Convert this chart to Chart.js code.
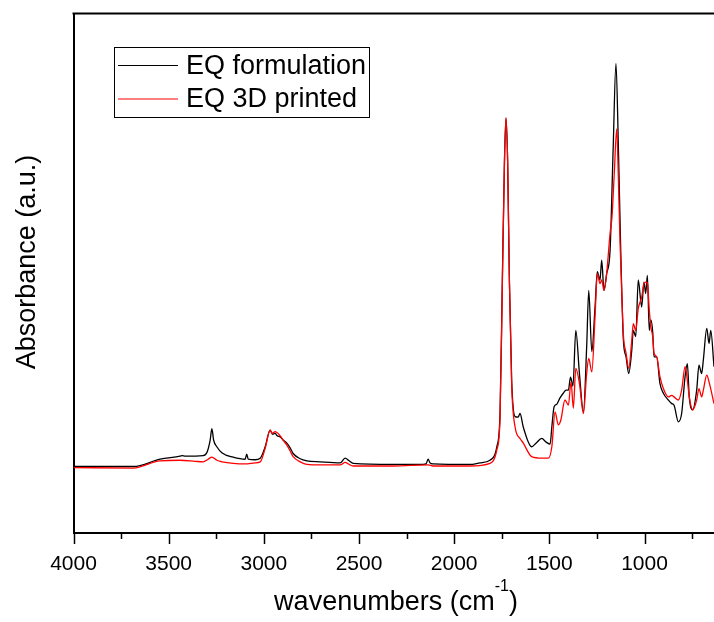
<!DOCTYPE html>
<html>
<head>
<meta charset="utf-8">
<script src="https://cdn.jsdelivr.net/npm/chart.js@4.4.1/dist/chart.umd.min.js"></script>
<style>
  html, body { margin: 0; padding: 0; background: #fff; }
</style>
</head>
<body>
<canvas id="ftir" width="714" height="622"></canvas>
<script>
// FTIR spectra, wavenumber (cm-1) vs absorbance (a.u.)
const wnFormulation = [4000, 3686, 3545, 3440, 3429, 3413, 3319, 3298, 3282, 3273, 3264, 3247, 3219, 3161, 3098, 3090, 3082, 3046, 3019, 2993,
  2967, 2954, 2941, 2930, 2914, 2899, 2879, 2862, 2846, 2809, 2774, 2704, 2599, 2573, 2552, 2531, 2321, 2163, 2148, 2137,
  2127, 2111, 1917, 1864, 1812, 1776, 1759, 1747, 1736, 1728, 1719, 1710, 1698, 1680, 1664, 1654, 1637, 1593, 1570, 1540,
  1517, 1496, 1487, 1475, 1461, 1444, 1427, 1412, 1400, 1389, 1376, 1361, 1342, 1321, 1304, 1293, 1277, 1260, 1248, 1234,
  1225, 1213, 1199, 1181, 1165, 1150, 1137, 1125, 1111, 1097, 1083, 1067, 1059, 1046, 1033, 1015, 1003, 994, 985, 975,
  967, 957, 950, 936, 919, 901, 875, 857, 845, 822, 805, 787, 775, 765, 747, 726, 714, 700, 691, 673, 661, 652, 635];
const absFormulation = [0.128, 0.128, 0.142, 0.148, 0.149, 0.148, 0.149, 0.156, 0.179, 0.201, 0.179, 0.166, 0.154, 0.146, 0.142, 0.152, 0.142, 0.141, 0.144, 0.166,
  0.198, 0.190, 0.192, 0.187, 0.185, 0.179, 0.173, 0.164, 0.153, 0.143, 0.139, 0.137, 0.135, 0.144, 0.139, 0.134, 0.132, 0.132, 0.133, 0.142,
  0.135, 0.133, 0.132, 0.135, 0.140, 0.166, 0.231, 0.487, 0.712, 0.798, 0.712, 0.487, 0.294, 0.224, 0.223, 0.230, 0.204, 0.166, 0.173, 0.182,
  0.175, 0.171, 0.204, 0.243, 0.248, 0.260, 0.269, 0.275, 0.275, 0.300, 0.283, 0.390, 0.307, 0.233, 0.358, 0.467, 0.349, 0.435, 0.503, 0.487,
  0.525, 0.467, 0.499, 0.544, 0.737, 0.904, 0.737, 0.544, 0.371, 0.339, 0.307, 0.352, 0.390, 0.378, 0.487, 0.435, 0.483, 0.461, 0.496, 0.390,
  0.410, 0.387, 0.339, 0.339, 0.288, 0.269, 0.256, 0.249, 0.246, 0.214, 0.230, 0.301, 0.326, 0.262, 0.237, 0.275, 0.323, 0.307, 0.333, 0.394, 0.365, 0.390, 0.320];

const wnPrinted = [4000, 3686, 3545, 3440, 3361, 3319, 3293, 3273, 3247, 3219, 3161, 3098, 3046, 3019, 2993, 2967, 2956, 2941, 2914, 2899,
  2879, 2862, 2846, 2809, 2774, 2704, 2599, 2573, 2552, 2531, 2321, 2137, 2111, 1917, 1812, 1776, 1759, 1747, 1736, 1728,
  1719, 1710, 1698, 1680, 1654, 1637, 1593, 1540, 1505, 1487, 1470, 1453, 1440, 1418, 1400, 1386, 1374, 1361, 1342, 1321,
  1304, 1293, 1277, 1260, 1248, 1234, 1225, 1213, 1199, 1181, 1171, 1159, 1146, 1138, 1129, 1120, 1111, 1097, 1083, 1067,
  1059, 1046, 1033, 1015, 1003, 994, 985, 975, 967, 957, 950, 936, 919, 901, 875, 857, 845, 822, 805, 787,
  775, 765, 747, 726, 714, 700, 691, 673, 661, 635];
const absPrinted = [0.126, 0.125, 0.139, 0.140, 0.138, 0.137, 0.142, 0.146, 0.140, 0.137, 0.134, 0.133, 0.135, 0.137, 0.163, 0.198, 0.192, 0.195, 0.187, 0.179,
  0.169, 0.158, 0.147, 0.137, 0.132, 0.131, 0.131, 0.136, 0.132, 0.129, 0.129, 0.131, 0.129, 0.129, 0.134, 0.160, 0.221, 0.477, 0.712, 0.800,
  0.712, 0.487, 0.285, 0.204, 0.182, 0.173, 0.147, 0.144, 0.144, 0.166, 0.233, 0.208, 0.217, 0.256, 0.246, 0.291, 0.240, 0.317, 0.288, 0.230,
  0.307, 0.336, 0.310, 0.416, 0.499, 0.480, 0.487, 0.467, 0.499, 0.577, 0.608, 0.692, 0.778, 0.692, 0.563, 0.467, 0.381, 0.346, 0.317, 0.371,
  0.403, 0.390, 0.432, 0.454, 0.480, 0.483, 0.481, 0.429, 0.397, 0.378, 0.346, 0.339, 0.301, 0.278, 0.262, 0.265, 0.262, 0.256, 0.275, 0.320,
  0.294, 0.262, 0.237, 0.256, 0.278, 0.262, 0.275, 0.304, 0.291, 0.249];

const seriesLabels = ['EQ formulation', 'EQ 3D printed'];
const seriesColors = ['#000000', '#ff0000'];
const wnRange = [635, 4000];
const majorStep = 500;
const minorStep = 250;

const FONT = '"Liberation Sans", Arial, Helvetica, sans-serif';

function toPoints(xs, ys) {
  return xs.map((x, i) => ({ x: x, y: ys[i] }));
}

// frame top edge, tick marks, axis titles and the boxed legend
const decorations = {
  id: 'decorations',
  afterDraw(chart) {
    const ctx = chart.ctx;
    const area = chart.chartArea;
    const xs = chart.scales.x;
    ctx.save();
    ctx.strokeStyle = '#000';

    ctx.lineWidth = 2;
    ctx.beginPath();
    ctx.moveTo(area.left - 1, area.top);
    ctx.lineTo(area.right, area.top);
    ctx.stroke();

    ctx.lineWidth = 1.5;
    xs.ticks.forEach(t => {
      const px = Math.round(xs.getPixelForValue(t.value)) + 0.5;
      const len = t.value % majorStep === 0 ? 11 : 6;
      ctx.beginPath();
      ctx.moveTo(px, area.bottom);
      ctx.lineTo(px, area.bottom + len);
      ctx.stroke();
    });

    // x title with superscript
    ctx.fillStyle = '#000';
    ctx.textBaseline = 'alphabetic';
    ctx.font = '27px ' + FONT;
    const main = 'wavenumbers (cm';
    const close = ')';
    const wMain = ctx.measureText(main).width;
    const wClose = ctx.measureText(close).width;
    ctx.font = '16px ' + FONT;
    const sup = '-1';
    const wSup = ctx.measureText(sup).width;
    let x0 = 396 - (wMain + wSup + wClose) / 2;
    ctx.font = '27px ' + FONT;
    ctx.textAlign = 'left';
    ctx.fillText(main, x0, 610);
    ctx.font = '16px ' + FONT;
    ctx.fillText(sup, x0 + wMain, 591);
    ctx.font = '27px ' + FONT;
    ctx.fillText(close, x0 + wMain + wSup, 610);

    // y title
    ctx.save();
    ctx.translate(35, 262);
    ctx.rotate(-Math.PI / 2);
    ctx.textAlign = 'center';
    ctx.fillText('Absorbance (a.u.)', 0, 0);
    ctx.restore();

    // legend
    ctx.lineWidth = 1;
    ctx.strokeRect(114.5, 47.5, 255, 70);
    chart.data.datasets.forEach((ds, i) => {
      const y = 65.5 + i * 33.5;
      ctx.strokeStyle = ds.borderColor;
      ctx.lineWidth = 1.2;
      ctx.beginPath();
      ctx.moveTo(118, y);
      ctx.lineTo(178, y);
      ctx.stroke();
      ctx.fillStyle = '#000';
      ctx.font = '27px ' + FONT;
      ctx.textAlign = 'left';
      ctx.textBaseline = 'middle';
      ctx.fillText(ds.label, 186, y + 1);
    });
    ctx.restore();
  }
};

function spectrumChart() {
  Chart.defaults.color = '#000';
  Chart.defaults.font.family = FONT;

  const data = {
    datasets: [
      {
        label: seriesLabels[0],
        data: toPoints(wnFormulation, absFormulation),
        borderColor: seriesColors[0],
        borderWidth: 1.3,
        order: 1
      },
      {
        label: seriesLabels[1],
        data: toPoints(wnPrinted, absPrinted),
        borderColor: seriesColors[1],
        borderWidth: 1.3,
        order: 0
      }
    ]
  };

  const config = {
    type: 'line',
    data: data,
    options: {
      responsive: false,
      animation: false,
      layout: { padding: { top: 13.5, left: 0, right: 0, bottom: 0 } },
      elements: {
        point: { radius: 0 },
        line: { cubicInterpolationMode: 'monotone', fill: false }
      },
      plugins: {
        legend: { display: false },
        tooltip: { enabled: false }
      },
      scales: {
        x: {
          type: 'linear',
          reverse: true,
          min: wnRange[0],
          max: wnRange[1],
          grid: { display: false, drawTicks: false },
          border: { display: true, color: '#000', width: 2 },
          ticks: {
            stepSize: minorStep,
            includeBounds: false,
            autoSkip: false,
            maxRotation: 0,
            padding: 19,
            font: { size: 21 },
            callback: v => (v % majorStep === 0 ? String(v) : '')
          },
          afterFit: s => { s.height = 89; s.paddingLeft = 0; s.paddingRight = 0; }
        },
        y: {
          min: 0,
          max: 1,
          grid: { display: false, drawTicks: false },
          border: { display: true, color: '#000', width: 2 },
          ticks: { display: false },
          afterFit: s => { s.width = 73.5; s.paddingTop = 0; s.paddingBottom = 0; }
        }
      }
    },
    plugins: [decorations]
  };

  new Chart(document.getElementById('ftir'), config);
}

spectrumChart();
</script>
</body>
</html>
